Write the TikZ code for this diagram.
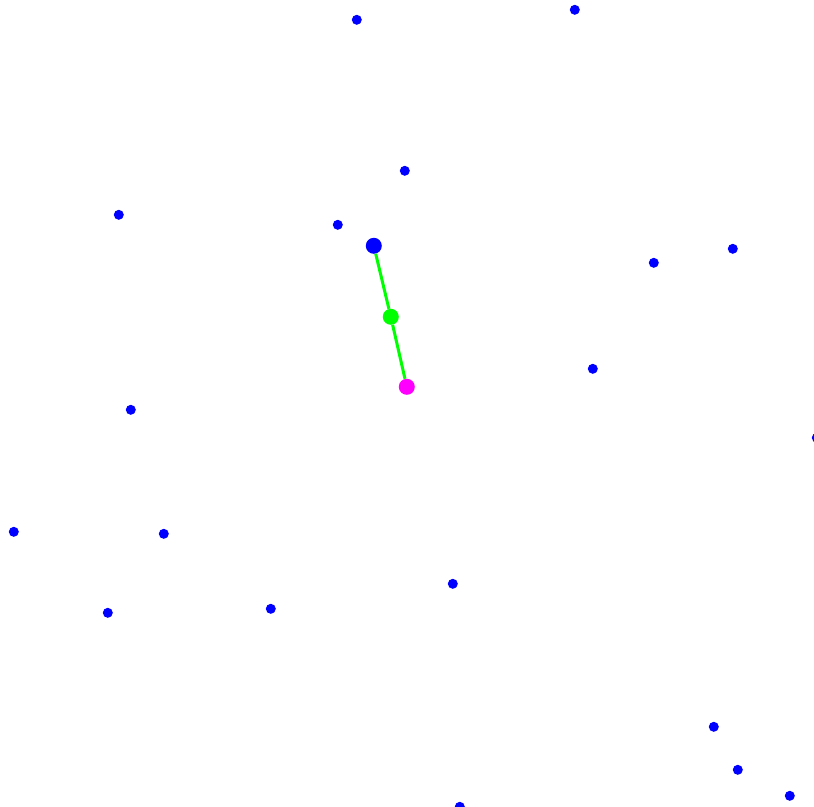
\documentclass[tikz,border=0pt]{standalone}
\usepackage{tikz}
\usepackage{xcolor}
\definecolor{PtBlue}{HTML}{0000FF}
\definecolor{PtGreen}{HTML}{00FF00}
\definecolor{PtMagenta}{HTML}{FF00FF}
\tikzset{
  smalldot/.style={circle, fill=PtBlue, inner sep=0pt, minimum size=10pt},
  bigdot/.style={circle, fill=#1, inner sep=0pt, minimum size=16pt},
  link/.style={line width=3pt, PtGreen}
}

\begin{document}
\begin{tikzpicture}[x=1pt, y=-1pt]
    % Canvas
    \useasboundingbox (0, 0) rectangle (814, 806);
    \clip (0, 0) rectangle (814, 806);

    \begin{scope}[shift={(0.8, 0.8)}]
    % Scattered points
    \foreach \px/\py [count=\i] in {356/19, 574/9, 404/170, 118/214, 337/224,
        653/262, 732/248, 592/368, 130/409, 816/437, 13/531, 163/533,
        452/583, 107/612, 270/608, 713/726, 737/769, 789/795, 459/806}
        \node[smalldot] (p\i) at (\px, \py) {};

    % Segment with midpoint
    \node[bigdot=PtBlue] (start) at (373, 245) {};
    \node[bigdot=PtGreen] (mid) at (390, 316) {};
    \node[bigdot=PtMagenta] (goal) at (406, 386) {};
    \draw[link] (start) -- (mid);
    \draw[link] (mid) -- (goal);
    \end{scope}
\end{tikzpicture}
\end{document}
